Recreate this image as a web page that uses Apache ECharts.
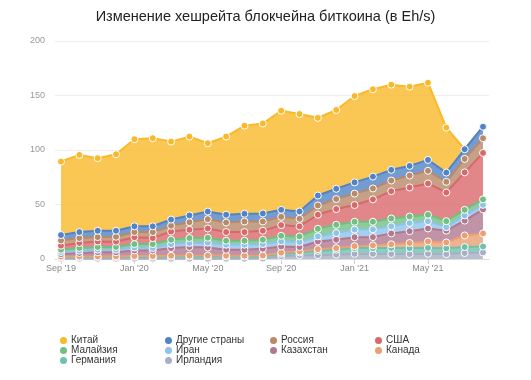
<!DOCTYPE html>
<html>
<head>
<meta charset="utf-8" />
<title>Хешрейт</title>
<script src="https://cdn.jsdelivr.net/npm/echarts@6/dist/echarts.min.js"></script>
<style>
  html, body { margin: 0; padding: 0; background: #fff; }
  #main { width: 531px; height: 380px; }
</style>
</head>
<body>
<div id="main"></div>
<script type="text/javascript">
/* месяцы: Sep 2019 .. Aug 2021 */
var months = ["Sep '19", "Oct '19", "Nov '19", "Dec '19", "Jan '20", "Feb '20", "Mar '20", "Apr '20",
  "May '20", "Jun '20", "Jul '20", "Aug '20", "Sep '20", "Oct '20", "Nov '20", "Dec '20",
  "Jan '21", "Feb '21", "Mar '21", "Apr '21", "May '21", "Jun '21", "Jul '21", "Aug '21"];

/* значения в Eh/s */
var china      = [67.4, 70.8, 66.6, 70.2, 79.9, 80.8, 71.5, 72.3, 62.7, 71.7, 80.8, 82.5, 90.9, 89.4, 71.3, 72.3, 79.2, 80.1, 78.1, 72.7, 70.8, 41.2, 0, 0];
var other      = [5.0, 5.5, 5.8, 5.5, 5.3, 5.3, 5.7, 6.2, 7.0, 7.1, 7.1, 7.4, 6.4, 6.7, 9.1, 9.4, 10.3, 10.9, 9.8, 8.8, 10.0, 8.5, 8.9, 10.6];
var russia     = [4.8, 4.5, 4.1, 4.5, 4.7, 5.5, 5.3, 7.0, 8.5, 8.8, 9.7, 8.5, 7.6, 7.0, 8.5, 9.2, 10.5, 10.0, 9.8, 11.0, 11.6, 9.8, 12.3, 13.5];
var usa        = [3.7, 4.6, 5.0, 4.9, 6.3, 5.5, 7.5, 7.6, 8.5, 7.9, 7.9, 8.2, 9.8, 9.2, 12.9, 14.4, 15.3, 20.5, 25.0, 26.6, 28.7, 26.3, 34.4, 42.6];
var malaysia   = [2.1, 2.5, 2.5, 2.5, 3.2, 3.7, 4.0, 4.5, 4.5, 3.7, 3.7, 4.0, 5.2, 5.1, 7.0, 7.6, 7.2, 7.0, 7.2, 6.0, 5.9, 5.5, 5.1, 5.0];
var iran       = [1.9, 2.1, 2.3, 2.3, 2.6, 2.1, 3.7, 3.7, 4.5, 4.6, 4.6, 4.3, 4.6, 4.6, 4.6, 6.1, 7.0, 7.1, 6.5, 7.5, 6.7, 3.2, 4.8, 4.2];
var kazakhstan = [2.4, 3.2, 3.8, 3.8, 5.2, 5.2, 7.0, 7.9, 7.4, 5.5, 5.5, 6.2, 5.7, 4.0, 7.1, 7.7, 8.2, 7.6, 10.0, 10.8, 11.9, 10.8, 13.6, 22.0];
var canada     = [0.6, 0.6, 0.6, 0.6, 0.7, 0.7, 0.8, 0.8, 0.8, 0.8, 0.8, 0.8, 1.0, 1.0, 1.5, 1.5, 1.8, 2.5, 3.3, 4.7, 5.9, 5.4, 10.6, 12.0];
var germany    = [1.2, 1.4, 1.5, 1.5, 1.7, 1.7, 1.9, 2.0, 2.0, 1.9, 1.9, 2.0, 2.3, 2.5, 4.0, 4.5, 5.3, 5.3, 5.6, 5.4, 5.4, 5.3, 5.5, 5.5];
var ireland    = [0.3, 0.3, 0.3, 0.3, 0.3, 0.3, 0.3, 0.3, 0.3, 0.3, 0.3, 0.4, 2.5, 3.5, 3.5, 4.0, 4.7, 4.7, 4.6, 4.6, 4.8, 4.5, 5.5, 6.0];

var seriesDefs = [
  { name: 'Китай', data: china, color: '#f9b929' },
  { name: 'Другие страны', data: other, color: '#5283c6' },
  { name: 'Россия', data: russia, color: '#b88a6a' },
  { name: 'США', data: usa, color: '#d9686b' },
  { name: 'Малайзия', data: malaysia, color: '#72bf82' },
  { name: 'Иран', data: iran, color: '#8ec3ea' },
  { name: 'Казахстан', data: kazakhstan, color: '#b27890' },
  { name: 'Канада', data: canada, color: '#eaa072' },
  { name: 'Германия', data: germany, color: '#6fc0ad' },
  { name: 'Ирландия', data: ireland, color: '#a9aec6' }
];

var chart = echarts.init(document.getElementById('main'));

/* стек снизу вверх: Ирландия ... Китай, поэтому идём с конца */
var series = seriesDefs.slice().reverse().map(function (s) {
  return {
    name: s.name,
    type: 'line',
    stack: 'total',
    color: s.color,
    symbol: 'circle',
    symbolSize: 7,
    showAllSymbol: true,
    z: s.name === 'Китай' ? 1 : 2,
    itemStyle: { color: s.color, borderColor: '#fff', borderWidth: 1 },
    lineStyle: { width: 2, color: s.color },
    areaStyle: { color: s.color, opacity: 0.8 },
    emphasis: { disabled: true },
    data: s.data
  };
});

/* легенда в 4 колонки */
var cols = [
  ['Китай', 'Малайзия', 'Германия'],
  ['Другие страны', 'Иран', 'Ирландия'],
  ['Россия', 'Казахстан'],
  ['США', 'Канада']
];
var legends = cols.map(function (c, k) {
  return {
    orient: 'vertical',
    left: 58 + k * 105,
    top: 335,
    padding: 0,
    itemWidth: 9,
    itemHeight: 9,
    itemGap: -1,
    icon: 'circle',
    textStyle: { fontSize: 10, color: '#333', padding: [0, 0, 0, -2] },
    data: c
  };
});

var option = {
  animation: false,
  title: {
    text: 'Изменение хешрейта блокчейна биткоина (в Eh/s)',
    left: 'center',
    top: 4,
    textStyle: { fontSize: 14.5, fontWeight: 'normal', color: '#222' }
  },
  legend: legends,
  grid: [
    { left: 61, right: 48, top: 41, bottom: 121 },
    /* фон: сетка чуть шире области данных */
    { left: 55, right: 42, top: 41, bottom: 121 }
  ],
  xAxis: [{
    type: 'category',
    gridIndex: 0,
    boundaryGap: false,
    data: months,
    splitLine: { show: false },
    axisLine: { show: false },
    axisTick: { show: true, interval: 3, length: 5, lineStyle: { color: '#ccc' } },
    axisLabel: { interval: 3, color: '#888', fontSize: 9, margin: 5 }
  }, {
    type: 'value',
    gridIndex: 1,
    min: 0,
    max: 1,
    splitLine: { show: false },
    axisTick: { show: false },
    axisLabel: { show: false },
    axisLine: { lineStyle: { color: '#ddd' } }
  }],
  yAxis: [{
    type: 'value',
    gridIndex: 0,
    min: 0,
    max: 200,
    interval: 50,
    axisLine: { show: false },
    axisTick: { show: false },
    splitLine: { show: false },
    axisLabel: { color: '#999', fontSize: 9, margin: 16 }
  }, {
    type: 'value',
    gridIndex: 1,
    min: 0,
    max: 200,
    interval: 50,
    axisLine: { show: false },
    axisTick: { show: false },
    axisLabel: { show: false },
    splitLine: { lineStyle: { color: '#eee' } }
  }],
  series: series
};

chart.setOption(option);
window.onresize = chart.resize;
</script>
</body>
</html>
